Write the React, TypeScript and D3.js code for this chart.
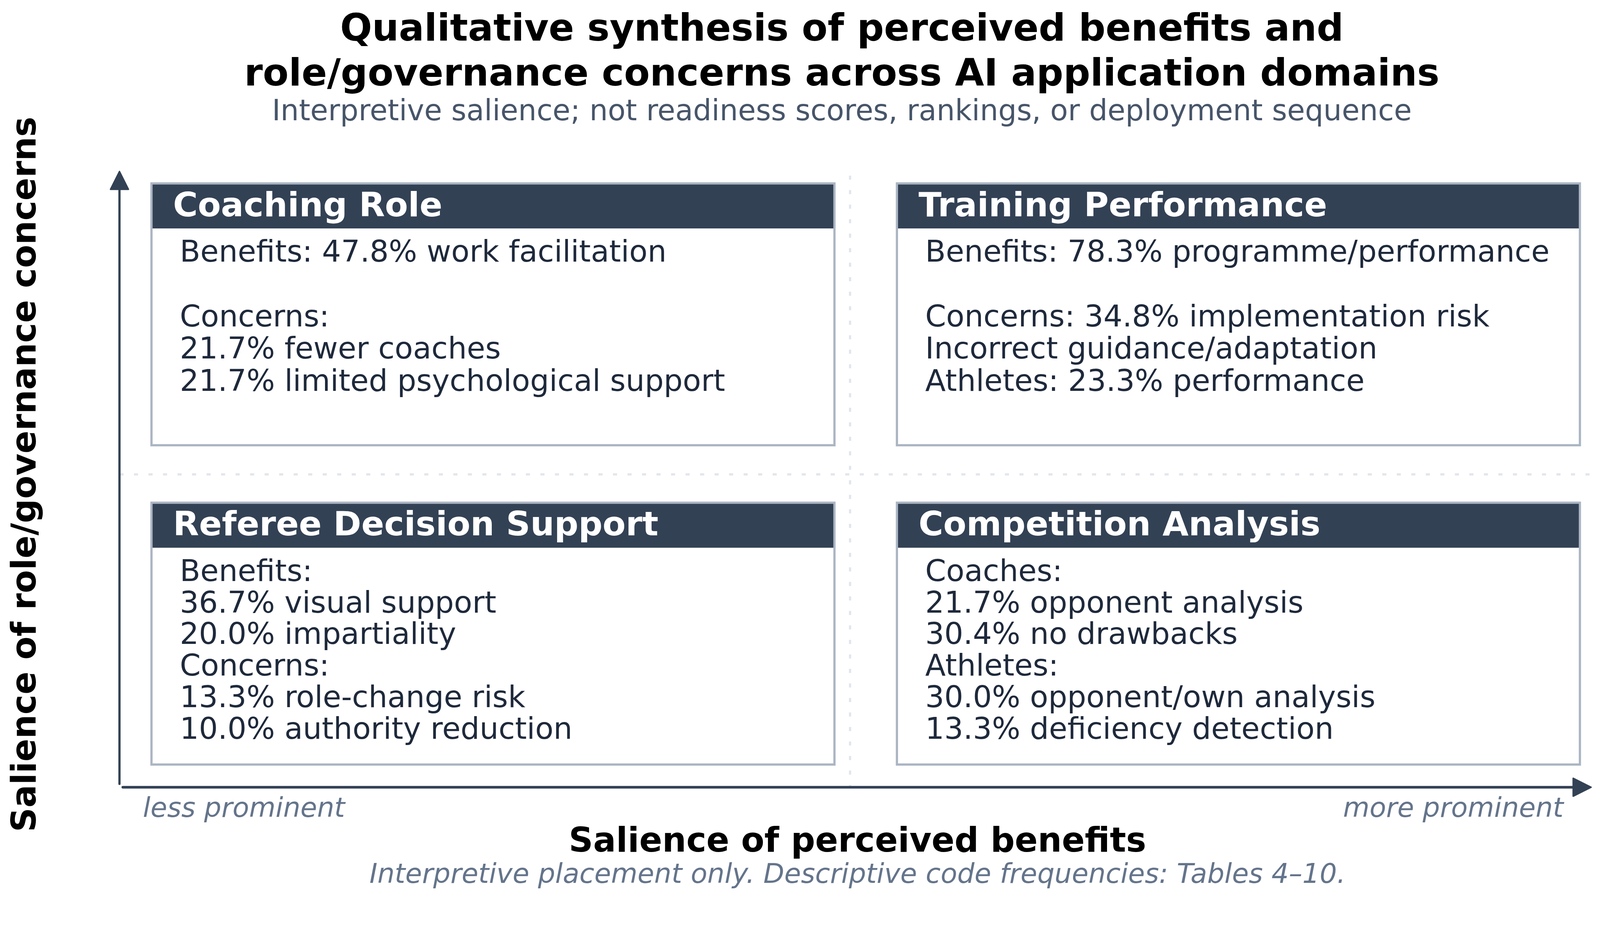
import * as d3 from "d3";
import React from "react";

// quadrant content
const domains = ["Coaching Role", "Training Performance", "Referee Decision Support", "Competition Analysis"];
const benefitLevel = ["less", "more", "less", "more"];
const concernLevel = ["high", "high", "low", "low"];
const domainLines = [
  ["Benefits: 47.8% work facilitation", "", "Concerns:", "21.7% fewer coaches", "21.7% limited psychological support"],
  [
    "Benefits: 78.3% programme/performance",
    "",
    "Concerns: 34.8% implementation risk",
    "Incorrect guidance/adaptation",
    "Athletes: 23.3% performance",
  ],
  ["Benefits:", "36.7% visual support", "20.0% impartiality", "Concerns:", "13.3% role-change risk", "10.0% authority reduction"],
  ["Coaches:", "21.7% opponent analysis", "30.4% no drawbacks", "Athletes:", "30.0% opponent/own analysis", "13.3% deficiency detection"],
];
const benefitTicks = ["less prominent", "more prominent"];

const title = ["Qualitative synthesis of perceived benefits and", "role/governance concerns across AI application domains"];
const subtitle = "Interpretive salience; not readiness scores, rankings, or deployment sequence";
const xLabel = "Salience of perceived benefits";
const yLabel = "Salience of role/governance concerns";
const footnote = "Interpretive placement only. Descriptive code frequencies: Tables 4\u201310.";

const W = 4299;
const H = 2415;
const font = "'DejaVu Sans', sans-serif";
const ink = "#1e293b";
const slate = "#334155";
const border = "#abb5c3";
const muted = "#64748b";

export default function App() {
  React.useEffect(() => {
    document.body.style.margin = "0";
    document.body.style.overflow = "hidden";
  }, []);

  // axes frame
  const x = d3.scaleLinear().domain([0, 1]).range([321, 4290]);
  const y = d3.scaleLinear().domain([0, 1]).range([2116, 461]);

  // quadrant boxes
  const col = d3.scaleBand().domain(["less", "more"]).range([407, 4245]).paddingInner(0.0838);
  const row = d3.scaleBand().domain(["high", "low"]).range([493, 2055]).paddingInner(0.18);

  const headerH = 121;
  const midX = 2284;
  const midY = 1275;

  const arrowHead = (tipX: number, tipY: number, dir: "up" | "right") => {
    const len = 48;
    const half = 24;
    const pts =
      dir === "up"
        ? [[tipX, tipY], [tipX - half, tipY + len], [tipX + half, tipY + len]]
        : [[tipX, tipY], [tipX - len, tipY - half], [tipX - len, tipY + half]];
    return d3.line()(pts as [number, number][]) + "Z";
  };

  return (
    <svg
      viewBox={`0 0 ${W} ${H}`}
      preserveAspectRatio="xMinYMin meet"
      style={{ position: "absolute", left: 0, top: 0, width: "100vw", height: "100vh", background: "#fff" }}
      fontFamily={font}
    >
      <rect width={W} height={H} fill="#fff" />

      {/* title block */}
      <g textAnchor="middle" fontWeight="bold" fontSize={101} fill="#000">
        {title.map((t, i) => (
          <text key={t} x={2262} y={109 + i * 121}>
            {t}
          </text>
        ))}
      </g>
      <text x={2262} y={323} textAnchor="middle" fontSize={78} fill="#475569">
        {subtitle}
      </text>

      {/* quadrant dividers */}
      <line x1={midX} x2={midX} y1={472} y2={y(0)} stroke="#e2e6ec" strokeWidth={6} strokeDasharray="11 28" />
      <line x1={x(0)} x2={x(1)} y1={midY} y2={midY} stroke="#e2e6ec" strokeWidth={6} strokeDasharray="11 28" />

      {/* axes arrows */}
      <line x1={x(0)} x2={x(0)} y1={y(0) - 9} y2={y(1) + 40} stroke={slate} strokeWidth={6} strokeLinecap="round" />
      <path d={arrowHead(x(0), y(1), "up")} fill={slate} stroke={slate} strokeWidth={4} strokeLinejoin="round" />
      <line x1={x(0) + 9} x2={4235} y1={y(0)} y2={y(0)} stroke={slate} strokeWidth={7} strokeLinecap="round" />
      <path d={arrowHead(4275, y(0), "right")} fill={slate} stroke={slate} strokeWidth={4} strokeLinejoin="round" />

      {/* boxes */}
      {domains.map((name, i) => {
        const bx = col(benefitLevel[i])!;
        const by = row(concernLevel[i])!;
        const bw = col.bandwidth();
        const bh = row.bandwidth();
        const lineH = concernLevel[i] === "high" ? 87 : 85;
        return (
          <g key={name}>
            <rect x={bx} y={by} width={bw} height={bh} fill="#fff" />
            <rect x={bx} y={by} width={bw} height={headerH} fill={slate} />
            <rect x={bx} y={by} width={bw} height={bh} fill="none" stroke={border} strokeWidth={6} />
            <text x={bx + 58} y={by + 88} fill="#fff" fontWeight="bold" fontSize={90.5}>
              {name}
            </text>
            <g fill={ink} fontSize={80.5}>
              {domainLines[i].map((ln, j) => (
                <text key={j} x={bx + 76} y={by + 210 + j * lineH}>
                  {ln}
                </text>
              ))}
            </g>
          </g>
        );
      })}

      {/* axis end labels */}
      <g fontStyle="italic" fontSize={73} fill={muted}>
        <text x={384} y={2196} textAnchor="start">
          {benefitTicks[0]}
        </text>
        <text x={4201} y={2196} textAnchor="end">
          {benefitTicks[1]}
        </text>
      </g>

      <text x={2304} y={2289} textAnchor="middle" fontWeight="bold" fontSize={91} fill="#000">
        {xLabel}
      </text>
      <text x={2304} y={2373} textAnchor="middle" fontStyle="italic" fontSize={73} fill={muted}>
        {footnote}
      </text>
      <text
        transform={`translate(96,1275) rotate(-90)`}
        textAnchor="middle"
        fontWeight="bold"
        fontSize={91}
        fill="#000"
      >
        {yLabel}
      </text>
    </svg>
  );
}
